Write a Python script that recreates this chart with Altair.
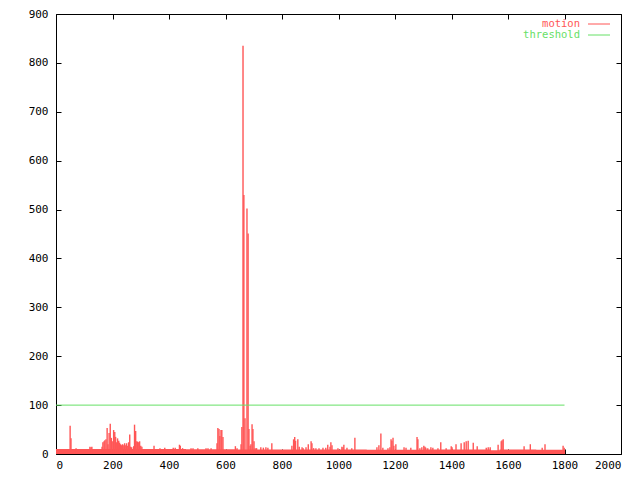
import altair as alt
import pandas as pd

# ---- data ----
# baseline noise level of the "motion" series (step segments)
base_frame = [0, 100, 300, 460, 560, 640, 720, 900, 1100, 1300, 1381, 1540, 1570, 1700, 1802]
base_level = [10, 10, 10, 9.5, 9.5, 9, 9, 9, 8.5, 9, 9, 7.5, 9, 8.5, 8.5]

# impulses of the "motion" series that rise above the baseline
spike_frame = [50, 53, 71, 120, 124, 127, 163, 166, 170, 173, 177, 181, 184, 188, 192, 196, 201, 204, 208, 211,
               215, 218, 222, 225, 229, 232, 236, 240, 243, 247, 250, 254, 257, 261, 264, 268, 275, 278, 282, 286,
               289, 293, 296, 300, 304, 347, 368, 385, 415, 422, 437, 440, 448,
               478, 485, 502, 531, 538, 549, 570, 573, 577, 580, 584, 587, 591, 635, 641, 655, 658, 662, 665, 669,
               676, 680, 683, 687, 690, 694, 697, 701, 705, 710, 725, 734, 743, 750, 764, 835, 841, 845, 848, 856,
               861, 871, 875, 885, 893, 903, 906, 912,
               920, 931, 945, 955, 962, 970, 973, 977, 998, 1012, 1016, 1019, 1030, 1047, 1058, 1136, 1143, 1150,
               1157, 1175, 1182, 1186, 1189, 1193, 1196, 1203, 1232, 1239, 1256, 1278, 1281, 1288, 1295, 1302, 1306,
               1309, 1316, 1327, 1334, 1352, 1362,
               1381, 1399, 1402, 1416, 1434, 1445, 1452, 1459, 1477, 1491, 1523, 1530, 1537, 1565, 1576, 1579, 1583,
               1657, 1679, 1721, 1731, 1795, 1799]
spike_value = [58, 32, 12, 15, 14, 15, 15, 24, 26, 28, 30, 53, 20, 43, 62, 33, 26, 49, 45, 35,
               24, 32, 27, 23, 20, 18, 20, 18, 22, 18, 22, 17, 24, 40, 15, 14, 16, 60, 47, 26,
               25, 24, 26, 17, 15, 17, 12, 13, 13, 13, 19, 17, 12,
               12, 12, 12, 12, 12, 12, 22, 53, 51, 37, 49, 49, 35, 16, 12, 20, 55, 835, 530, 73,
               502, 451, 51, 17, 20, 61, 51, 26, 12, 12, 14, 13, 14, 13, 22, 17, 30, 35, 27, 30,
               15, 14, 12, 14, 20, 26, 22, 12,
               12, 12, 13, 13, 19, 15, 24, 18, 12, 15, 14, 19, 13, 12, 33, 14, 18, 42,
               13, 12, 14, 30, 27, 33, 17, 20, 14, 13, 13, 35, 30, 12, 14, 17, 15,
               13, 12, 14, 13, 12, 24,
               12, 16, 14, 20, 22, 24, 26, 27, 23, 16, 13, 14, 14, 19, 26, 28, 30,
               16, 20, 13, 20, 17, 13]

threshold_value = [100]
threshold_start = [0]
threshold_end = [1800]

series_names = ["motion", "threshold"]
series_colors = ["#ff5555", "#66e066"]

x_domain = [0, 2000]
y_domain = [0, 900]
x_ticks = list(range(0, 2001, 200))
y_ticks = list(range(0, 901, 100))

FONT = "DejaVu Sans Mono"
FS = 11

base_df = pd.DataFrame({"frame": base_frame, "value": base_level})
spike_df = pd.DataFrame({"frame": spike_frame, "value": spike_value})
thr_df = pd.DataFrame({"start": threshold_start, "end": threshold_end, "value": threshold_value})

xs = alt.Scale(domain=x_domain, nice=False, zero=False)
ys = alt.Scale(domain=y_domain, nice=False)

common_axis = dict(domain=False, grid=False, tickSize=5, offset=-5, tickColor="black", tickWidth=1,
                   labelFont=FONT, labelFontSize=FS, labelColor="black", title=None, format="d")

# baseline area with main axes (bottom / left)
base = alt.Chart(base_df).mark_area(interpolate="step-after", color=series_colors[0], opacity=1).encode(
    x=alt.X("frame:Q", scale=xs, axis=alt.Axis(orient="bottom", values=x_ticks, labelPadding=5, **common_axis)),
    y=alt.Y("value:Q", scale=ys, axis=alt.Axis(orient="left", values=y_ticks, labelPadding=8, **common_axis)),
)

# impulses with mirror tick axes (top / right)
spikes = alt.Chart(spike_df).mark_rule(color=series_colors[0], strokeWidth=1.4).encode(
    x=alt.X("frame:Q", scale=xs, axis=alt.Axis(orient="top", values=x_ticks, labels=False, **common_axis)),
    y=alt.Y("value:Q", scale=ys, axis=alt.Axis(orient="right", values=y_ticks, labels=False, **common_axis)),
    y2=alt.datum(0),
)

threshold = alt.Chart(thr_df).mark_rule(color=series_colors[1], strokeWidth=1).encode(
    x=alt.X("start:Q", scale=xs, axis=None),
    x2="end:Q",
    y=alt.Y("value:Q", scale=ys, axis=None),
)

legend_layers = []
for i, (name, col) in enumerate(zip(series_names, series_colors)):
    ly = 10 + i * 11
    legend_layers.append(
        alt.Chart(pd.DataFrame({"label": [name]})).mark_text(
            align="right", baseline="middle", font=FONT, fontSize=10.5, color=col
        ).encode(text="label:N", x=alt.value(524), y=alt.value(ly))
    )
    legend_layers.append(
        alt.Chart(pd.DataFrame({"label": [name]})).mark_rule(color=col, strokeWidth=1).encode(
            x=alt.value(532), x2=alt.value(554), y=alt.value(ly)
        )
    )

chart = alt.layer(base, spikes, threshold, *legend_layers).resolve_axis(
    x="independent", y="independent"
).properties(
    width=565, height=440,
    padding={"left": 48, "top": 6, "right": 11, "bottom": 18},
    autosize=alt.AutoSizeParams(type="none"),
    background="white",
).configure_view(stroke="black", strokeWidth=1)

chart.save("out.html", embed_options={"renderer": "svg", "actions": False})
